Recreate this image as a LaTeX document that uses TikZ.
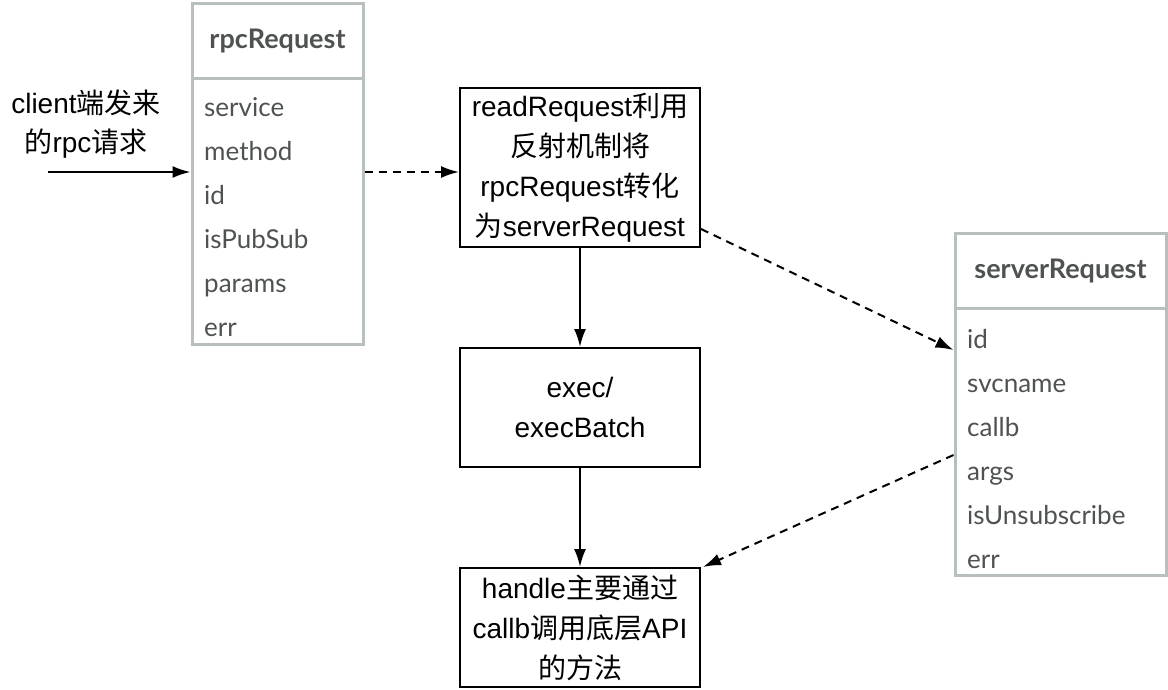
\documentclass[tikz,border=0pt]{standalone}
\usepackage{fontspec}
\setmainfont{Liberation Sans}
\newfontfamily\cjk{Noto Sans CJK SC}
\newfontfamily\fieldfont{Lato}
\usepackage{xcolor}
\usetikzlibrary{positioning,arrows.meta}
\definecolor{tblgray}{HTML}{B9BEBF}
\definecolor{txtgray}{HTML}{4F5252}

\begin{document}
\begin{tikzpicture}[x=1pt,y=-1pt,
                box/.style = {draw, line width=2pt, minimum width=240pt, align=center,
                    font=\fontsize{28}{40}\selectfont},
                tblhead/.style = {draw=tblgray, line width=3pt, minimum height=75pt,
                    text=txtgray, font=\fieldfont\bfseries\fontsize{27}{30}\selectfont},
                tblbody/.style = {draw=tblgray, line width=3pt},
                field/.style = {anchor=base west, inner sep=0pt, text=txtgray,
                    font=\fieldfont\fontsize{26}{30}\selectfont},
                flow/.style = {line width=2pt, -{Latex[length=18pt,width=12pt]}},
                dataflow/.style = {flow, dash pattern=on 8pt off 6pt}]
                \useasboundingbox (0,0) rectangle (1168,689);
                % rpcRequest table
                \node[tblhead, minimum width=171pt] (rpchead) at (277.5,40.5) {rpcRequest};
                \node[tblbody, minimum width=171pt, minimum height=266pt] (rpcbody) at (277.5,211) {};
                \foreach \f [count=\i] in {service,method,id,isPubSub,params,err}
                    \node[field] (rpc\i) at (204,72+44*\i) {\f};
                % serverRequest table
                \node[tblhead, minimum width=211pt] (srvhead) at (1060.5,270.5) {serverRequest};
                \node[tblbody, minimum width=211pt, minimum height=267pt] (srvbody) at (1060.5,441.5) {};
                \foreach \f [count=\i] in {id,svcname,callb,args,isUnsubscribe,err}
                    \node[field] (srv\i) at (967,304+44*\i) {\f};
                % processing steps
                \node[box, minimum height=159pt] (readreq) at (580,167.5)
                    {readRequest{\cjk 利用}\\{\cjk 反射机制将}\\rpcRequest{\cjk 转化}\\{\cjk 为}serverRequest};
                \node[box, minimum height=119pt] (exec) at (580,407.5) {exec/\\execBatch};
                \node[box, minimum height=119pt] (handle) at (580,627.5)
                    {handle{\cjk 主要通过}\\callb{\cjk 调用底层}API\\{\cjk 的方法}};
                \node[align=center, font=\fontsize{28}{39}\selectfont] (client) at (86,124)
                    {client{\cjk 端发来}\\{\cjk 的}rpc{\cjk 请求}};
                \coordinate (in) at (48,172);
                % connectors
                \draw[flow] (in) -- (rpcbody.west |- in);
                \draw[dataflow] (rpcbody.east |- in) -- (readreq.west |- in);
                \draw[dataflow] ([yshift=19pt]readreq.south east) -- (srvbody.west |- 0,350);
                \draw[flow] (readreq) -- (exec);
                \draw[flow] (exec) -- (handle);
                \draw[dataflow] (srvbody.west |- 0,455) -- ([xshift=2pt]handle.north east);
            \end{tikzpicture}
\end{document}
